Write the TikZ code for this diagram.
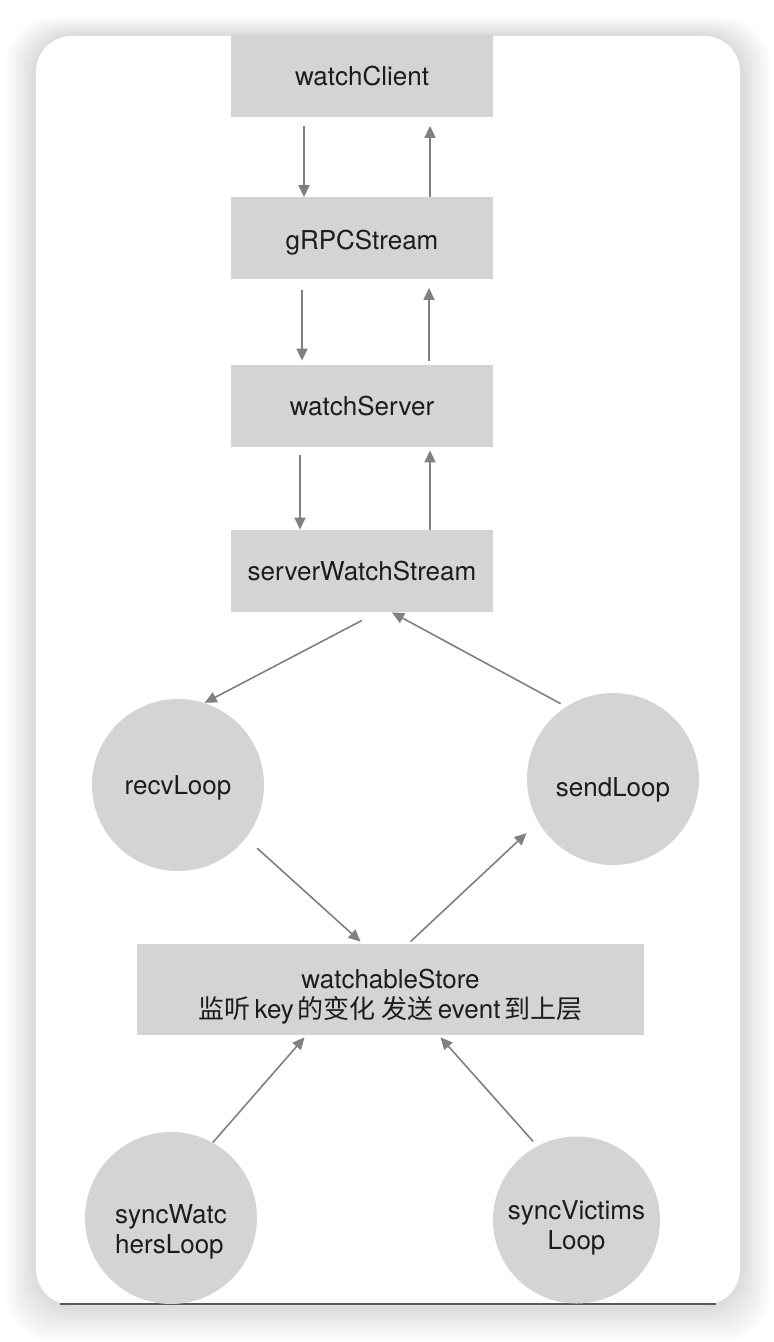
\documentclass[tikz,border=0pt]{standalone}
\usepackage{fontspec}
\setmainfont{TeX Gyre Heros}
\newfontfamily\cjk{Noto Sans CJK SC}
\usetikzlibrary{arrows.meta}
\definecolor{boxgray}{HTML}{D4D4D4}
\definecolor{linegray}{HTML}{808080}
\definecolor{txtblack}{HTML}{1C1C1C}
\newcommand{\gap}{\hspace{2pt}}
\begin{document}
\begin{tikzpicture}[x=0.5pt,y=-0.5pt,font=\fontsize{13}{15}\selectfont,
	box/.style={fill=boxgray,text=txtblack,minimum width=131pt,minimum height=41pt,inner sep=0pt},
	loopnode/.style={circle,fill=boxgray,text=txtblack,minimum size=86pt,inner sep=0pt,align=center},
	flow/.style={draw=linegray,line width=0.8pt,-{Triangle[length=6pt,width=5.5pt]}}]
	\useasboundingbox (0,0) rectangle (774,1342);
	% card and its shadow
	\foreach \i in {1,...,12}{
		\fill[black,opacity=0.013,rounded corners=22pt] (36-\i*2.5,36-\i*1.5) rectangle (740+\i*2.5,1305+\i*3);}
	\fill[white,rounded corners=18pt] (36,36) rectangle (740,1305);
	\draw[black!65,line width=1pt] (60,1304)--(716,1304);
	% nodes
	\node[box] (client) at (362,76.5) {watchClient};
	\node[box,text height=14pt,text depth=2.5pt] (grpc) at (362,238.5) {gRPCStream};
	\node[box] (server) at (362,406) {watchServer};
	\node[box] (sws) at (362,571) {serverWatchStream};
	\node[loopnode,text height=12pt,text depth=2.5pt] (recv) at (178,785) {recvLoop};
	\node[loopnode,text height=20pt,text depth=2.5pt] (send) at (613,779) {sendLoop};
	\node[box,minimum width=253.5pt,minimum height=45.5pt,align=center,text height=28.5pt,text depth=0pt] (store) at (390.5,989.5)
		{watchableStore\\{\cjk 监听}\gap key\gap{\cjk 的变化 发送}\gap event\gap{\cjk 到上层}};
	\node[loopnode,align=left,text height=35pt,text depth=0pt] (syncw) at (171,1218) {syncWatc\\hersLoop};
	\node[loopnode,minimum size=83.5pt,text height=29.4pt,text depth=0pt] (syncv) at (576.5,1220) {syncVictims\\Loop};
	% down and up streams
	\draw[flow] ([xshift=-29pt,yshift=-4pt]client.south)--([xshift=-29pt]grpc.north);
	\draw[flow] ([xshift=34pt]grpc.north)--([xshift=34pt,yshift=-4pt]client.south);
	\draw[flow] ([xshift=-30pt,yshift=-5pt]grpc.south)--([xshift=-30pt,yshift=2pt]server.north);
	\draw[flow] ([xshift=33.5pt,yshift=2pt]server.north)--([xshift=33.5pt,yshift=-4pt]grpc.south);
	\draw[flow] ([xshift=-31pt,yshift=-4pt]server.south)--([xshift=-31pt]sws.north);
	\draw[flow] ([xshift=34pt]sws.north)--([xshift=34pt,yshift=-1.5pt]server.south);
	\draw[flow] ([yshift=-4pt]sws.south)--(recv.72);
	\draw[flow,shorten <=3pt] (send.123)--([xshift=15pt]sws.south);
	\draw[flow,shorten <=7.5pt] (recv.-38)--([xshift=-15pt,yshift=1pt]store.north);
	\draw[flow,shorten >=8pt] ([xshift=10pt,yshift=1pt]store.north)--(send.210);
	\draw[flow] (syncw.61)--([xshift=-43pt,yshift=-1pt]store.south);
	\draw[flow,shorten <=3pt] (syncv.118)--([xshift=25pt,yshift=-1pt]store.south);
\end{tikzpicture}
\end{document}
